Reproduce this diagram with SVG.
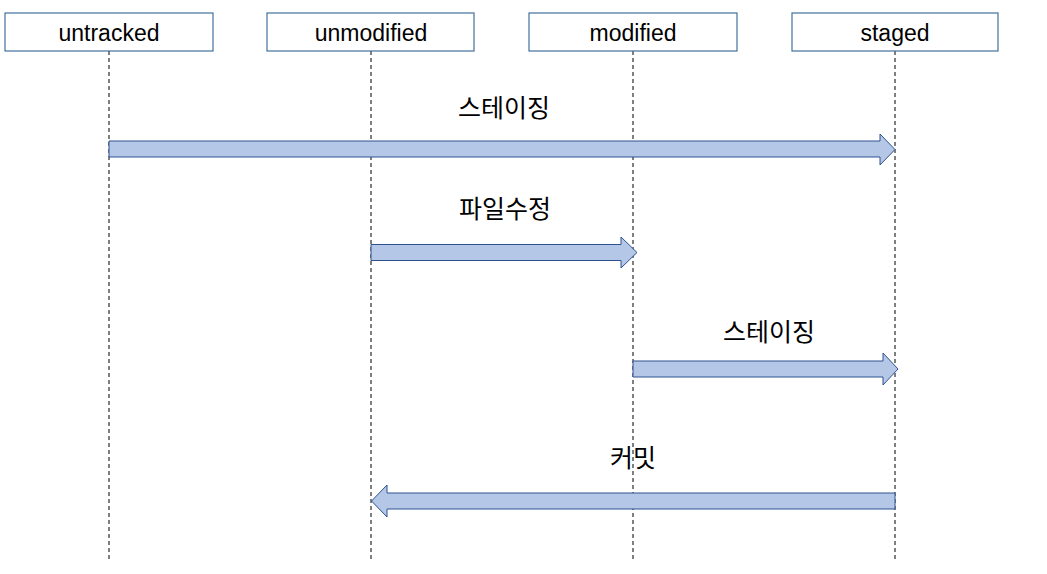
<svg xmlns="http://www.w3.org/2000/svg" width="1047" height="574" viewBox="0 0 1047 574">
<style>
.box{fill:#fff;stroke:#41719c;stroke-width:1.2}
.life{stroke:#000;stroke-width:1;stroke-dasharray:4,3;fill:none}
.arr{fill:#b4c7e7;stroke:#2f528f;stroke-width:1}
.lbl{font-family:"Liberation Sans","Noto Sans CJK KR",sans-serif;font-size:23px;fill:#000;text-anchor:middle}
.kr{font-family:"Noto Sans CJK KR",sans-serif;font-size:25px;fill:#000;text-anchor:middle}
</style>
<rect width="1047" height="574" fill="#fff"/>
<g id="lifelines">
<line class="life" x1="109" y1="51" x2="109" y2="560"/>
<line class="life" x1="371" y1="51" x2="371" y2="560"/>
<line class="life" x1="633" y1="51" x2="633" y2="560"/>
<line class="life" x1="895" y1="51" x2="895" y2="560"/>
</g>
<g id="untracked"><rect class="box" x="5" y="13" width="208" height="38"/><text class="lbl" x="109" y="41">untracked</text></g>
<g id="unmodified"><rect class="box" x="267" y="13" width="207" height="38"/><text class="lbl" x="371" y="41">unmodified</text></g>
<g id="modified"><rect class="box" x="529" y="13" width="208" height="38"/><text class="lbl" x="633" y="41">modified</text></g>
<g id="staged"><rect class="box" x="792" y="13" width="206" height="38"/><text class="lbl" x="895" y="41">staged</text></g>
<g id="connectors">
<polygon class="arr" points="109,141 880,141 880,134 895,149.5 880,165 880,157 109,157"/>
<text class="kr" x="504" y="117">스테이징</text>
<polygon class="arr" points="371,244.5 621,244.5 621,237 637,252.5 621,268 621,260.5 371,260.5"/>
<text class="kr" x="505" y="218">파일수정</text>
<polygon class="arr" points="633,361 883,361 883,353 898,369 883,385 883,377 633,377"/>
<text class="kr" x="769" y="341">스테이징</text>
<polygon class="arr" points="895,493 387,493 387,485 371.5,501 387,517 387,509 895,509"/>
<text class="kr" x="633" y="467">커밋</text>
</g>
</svg>
